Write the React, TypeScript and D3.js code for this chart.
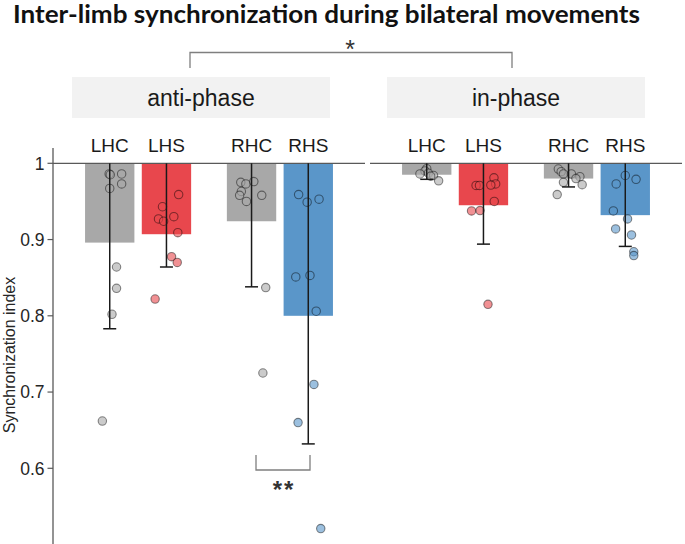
import React from "react";
import * as d3 from "d3";

// ---- data ----
const title = "Inter-limb synchronization during bilateral movements";
const phases = ["anti-phase", "in-phase"];
const groups = ["LHC", "LHS", "RHC", "RHS"];
const groupPos = [1, 2, 3.5, 4.5];
const groupColors = ["#a8a8a8", "#e8474d", "#a8a8a8", "#5a96c9"];

const antiMeans = [0.896, 0.907, 0.924, 0.8];
const antiSD = [0.113, 0.043, 0.086, 0.168];
const inMeans = [0.985, 0.945, 0.98, 0.932];
const inSD = [0.006, 0.051, 0.011, 0.041];

// individual subject values (value, horizontal jitter in category units)
const antiLHC = [[0.986, -0.01], [0.985, 0.01], [0.986, 0.21], [0.967, 0.0], [0.973, 0.21], [0.864, 0.12], [0.836, 0.12], [0.802, 0.04], [0.662, -0.13]];
const antiLHS = [[0.959, 0.215], [0.943, -0.07], [0.93, 0.13], [0.927, -0.14], [0.924, -0.05], [0.909, 0.2], [0.8775, 0.09], [0.87, 0.19], [0.822, -0.2]];
const antiRHC = [[0.975, -0.19], [0.973, -0.1], [0.976, 0.04], [0.963, -0.18], [0.958, -0.21], [0.95, -0.09], [0.958, 0.18], [0.837, 0.25], [0.725, 0.2]];
const antiRHS = [[0.959, -0.17], [0.949, -0.02], [0.953, 0.19], [0.851, -0.22], [0.853, 0.03], [0.806, 0.14], [0.71, 0.1], [0.66, -0.18], [0.521, 0.22]];
const inLHC = [[0.993, 0.0], [0.99, -0.03], [0.987, 0.03], [0.986, -0.12], [0.984, 0.12], [0.983, 0.07], [0.977, 0.21]];
const inLHS = [[0.981, 0.185], [0.973, 0.215], [0.9715, 0.13], [0.971, -0.13], [0.971, -0.07], [0.95, 0.19], [0.9375, -0.21], [0.938, -0.06], [0.815, 0.08]];
const inRHC = [[0.9925, -0.18], [0.989, -0.13], [0.986, -0.09], [0.986, 0.05], [0.9825, 0.2], [0.98, 0.13], [0.975, -0.09], [0.972, 0.24], [0.959, -0.2]];
const inRHS = [[0.984, 0.0], [0.979, 0.19], [0.973, -0.16], [0.9375, -0.21], [0.927, 0.04], [0.914, -0.17], [0.906, 0.11], [0.884, 0.15], [0.879, 0.15]];

const yTicks = [0.6, 0.7, 0.8, 0.9, 1];
const yTickLabels = ["0.6", "0.7", "0.8", "0.9", "1"];
const yAxisExtent = [0.496, 1.02];
const refLine = 1;

const panelsData = [
  { phase: phases[0], means: antiMeans, sd: antiSD, pts: [antiLHC, antiLHS, antiRHC, antiRHS] },
  { phase: phases[1], means: inMeans, sd: inSD, pts: [inLHC, inLHS, inRHC, inRHS] },
];

export default function App() {
  const W = 685, H = 544;
  const y = d3.scaleLinear().domain([0.6, 1]).range([468.3, 163.3]);
  const panelRanges = [[53, 365], [370, 682]];
  const stripRanges = [[72, 330], [387, 645]];
  const barW = 0.87;
  const capW = 13;
  const font = "'Liberation Sans', Arial, sans-serif";

  return (
    <svg width={W} height={H} style={{ position: "absolute", left: 0, top: 0, background: "#fff" }}>
      <rect x={0} y={0} width={W} height={H} fill="#fff" />
      <text x={13} y={23} fontFamily="Lato, 'Open Sans', sans-serif" fontWeight={700} fontSize={24}
        textLength={627} lengthAdjust="spacingAndGlyphs" fill="#111">{title}</text>

      {/* top significance bracket */}
      <path d={`M190,68 V52.5 H512 V68`} fill="none" stroke="#7f7f7f" strokeWidth={1.3} />
      <text x={350} y={58} textAnchor="middle" fontFamily={font} fontSize={25} fill="#333">*</text>

      {/* strips */}
      {phases.map((p, i) => (
        <g key={p}>
          <rect x={stripRanges[i][0]} y={77} width={stripRanges[i][1] - stripRanges[i][0]} height={41} fill="#f2f2f2" />
          <text x={(stripRanges[i][0] + stripRanges[i][1]) / 2} y={106} textAnchor="middle" fontFamily={font}
            fontSize={23} fill="#1a1a1a">{p}</text>
        </g>
      ))}

      {/* y axis */}
      <line x1={53} x2={53} y1={y(yAxisExtent[0])} y2={y(yAxisExtent[1])} stroke="#595959" strokeWidth={1.3} />
      {yTicks.map((t, i) => (
        <g key={t}>
          <line x1={47.5} x2={53} y1={y(t)} y2={y(t)} stroke="#595959" strokeWidth={1.2} />
          <text x={44.5} y={y(t)} dy="0.36em" textAnchor="end" fontFamily={font} fontSize={17.5} fill="#262626">
            {yTickLabels[i]}
          </text>
        </g>
      ))}
      <text transform={`translate(15,355) rotate(-90)`} textAnchor="middle" fontFamily={font} fontSize={16}
        fill="#262626">Synchronization index</text>

      {panelsData.map((pd, pi) => {
        const x = d3.scaleLinear().domain([0, 5.5]).range(panelRanges[pi]);
        const unit = x(1) - x(0);
        return (
          <g key={pd.phase}>
            {/* group labels */}
            {groups.map((g, gi) => (
              <text key={g} x={x(groupPos[gi])} y={152} textAnchor="middle" fontFamily={font} fontSize={19}
                fill="#1a1a1a">{g}</text>
            ))}
            {/* bars */}
            {groups.map((g, gi) => (
              <rect key={g} x={x(groupPos[gi] - barW / 2)} width={barW * unit}
                y={y(refLine)} height={y(pd.means[gi]) - y(refLine)} fill={groupColors[gi]} />
            ))}
            {/* reference line */}
            <line x1={panelRanges[pi][0]} x2={panelRanges[pi][1]} y1={y(refLine)} y2={y(refLine)}
              stroke="#595959" strokeWidth={1.3} />
            {/* points */}
            {groups.map((g, gi) => (
              <g key={g}>
                {pd.pts[gi].map((p, k) => (
                  <circle key={k} cx={x(groupPos[gi] + p[1])} cy={y(p[0])} r={4.2}
                    fill={groupColors[gi]} fillOpacity={0.6} stroke="#000" strokeOpacity={0.45} strokeWidth={1.1} />
                ))}
              </g>
            ))}
            {/* error bars (lower whisker, line up to the reference) */}
            {groups.map((g, gi) => {
              const cx = x(groupPos[gi]);
              const lo = pd.means[gi] - pd.sd[gi];
              return (
                <g key={g} stroke="#1a1a1a" strokeWidth={1.5}>
                  <line x1={cx} x2={cx} y1={y(lo)} y2={y(refLine)} />
                  <line x1={cx - capW / 2} x2={cx + capW / 2} y1={y(lo)} y2={y(lo)} />
                </g>
              );
            })}
          </g>
        );
      })}

      {/* lower significance bracket */}
      <path d={`M256,455 V470 H310 V455`} fill="none" stroke="#7f7f7f" strokeWidth={1.3} />
      <text x={284} y={498} textAnchor="middle" fontFamily={font} fontWeight={700} fontSize={24} fill="#333"
        letterSpacing={2}>**</text>
    </svg>
  );
}
